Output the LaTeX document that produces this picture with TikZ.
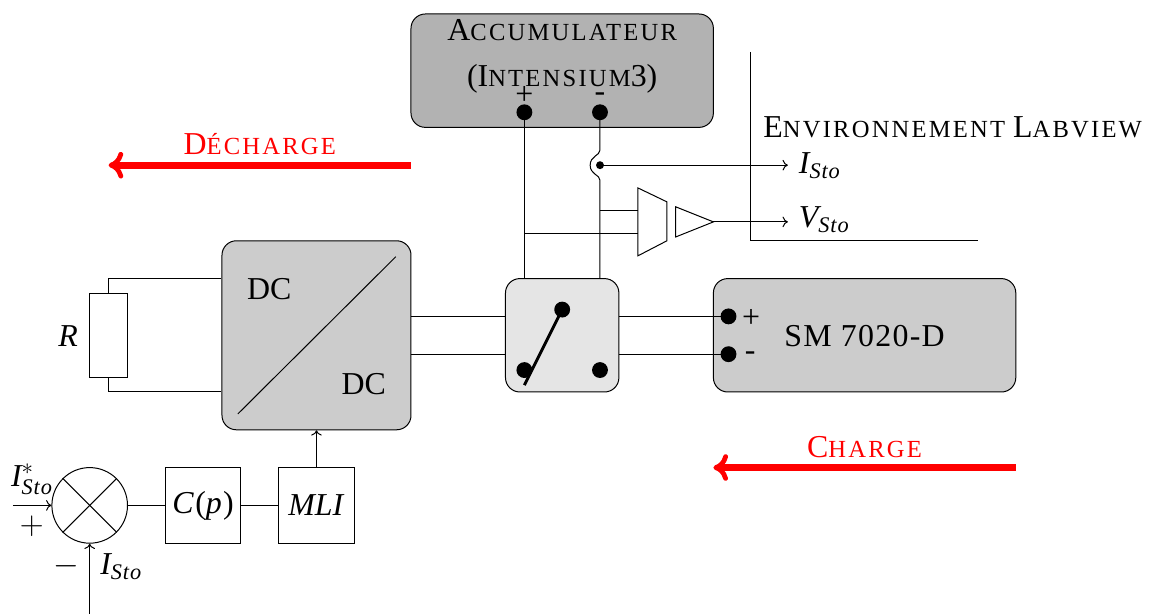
\documentclass[tikz,border=0pt]{standalone}
\usepackage{amsmath}
\usepackage{fontspec}
\setmainfont{Liberation Serif}
\newfontfamily\capsfont[LetterSpace=9]{Liberation Serif}
\newfontfamily\espfont[LetterSpace=4]{Liberation Serif}
\usetikzlibrary{arrows.meta,positioning,calc}
\newcommand{\smc}[1]{{\capsfont\fontsize{18.5}{22}\selectfont #1}}
\newcommand{\Sto}{\text{\espfont\itshape Sto}}
\newcommand{\Isto}{\textit{I}_{\Sto}}
\newcommand{\Vsto}{\textit{V}_{\Sto}}
\begin{document}
\begin{tikzpicture}[line width=0.75pt,
    every node/.style={font=\fontsize{24}{34.5}\selectfont},
    bloc/.style={draw,fill=#1,rounded corners=0.38cm,inner sep=0pt},
    carre/.style={draw,inner sep=0pt,minimum width=2cm,minimum height=2cm},
    gros/.style={circle,fill=black,inner sep=0pt,minimum size=0.42cm},
    petit/.style={circle,fill=black,inner sep=0pt,minimum size=0.21cm},
    ar/.style={-{To[length=4pt,width=8pt]}},
    fleche/.style={-{To[length=11pt,width=20pt,round,line width=3.6pt]},red,line width=5.2pt}
  ]
    \useasboundingbox (-10.873,-5.87) rectangle (19.524,10.37);
    % blocs
    \node[bloc=black!30,minimum width=8cm,minimum height=3cm] (acc) at (4,8.5) {};
    \node[align=center,inner sep=0pt] (acct) at (4,8.88)
      {A\smc{CCUMULATEUR}\\(I\smc{NTENSIUM}3)};
    \node[bloc=black!20,minimum width=5cm,minimum height=5cm] (dc) at (-2.5,1.5) {};
    \node[bloc=black!10,minimum width=3cm,minimum height=3cm] (sw) at (4,1.5) {};
    \node[bloc=black!20,minimum width=8cm,minimum height=3cm] (sm) at (12,1.5) {};
    \node (smt) at (12,1.47) {\espfont SM 7020-D};
    \node (dc1) at (-3.75,2.72) {DC};
    \node (dc2) at (-1.25,0.2) {DC};
    \coordinate (d1) at (-4.58,-0.58);
    \coordinate (d2) at (-0.4,3.58);
    \draw (d1) -- (d2);
    % bornes
    \node[gros] (bp) at (3,7.4) {};
    \node[gros] (bm) at (5,7.4) {};
    \node (lp) at (3,7.85) {+};
    \node (lm) at (5,7.8) {-};
    \node[gros] (sa) at (4,2.18) {};
    \node[gros] (sb) at (3,0.58) {};
    \node[gros] (sc) at (5,0.58) {};
    \coordinate (sbas) at (3,0.18);
    \draw[line width=2.2pt] (sa.center) -- (sbas);
    \node[gros] (mp) at (8.4,2) {};
    \node[gros] (mm) at (8.4,1) {};
    \node (lmp) at (9,1.95) {+};
    \node (lmm) at (8.97,0.95) {-};
    \foreach \y in {2,1}{
      \draw (dc.east |- 0,\y) -- (sw.west |- 0,\y);
      \draw (sw.east |- 0,\y) -- (8.4,\y);
    }
    % charge
    \node[draw,minimum width=1cm,minimum height=2.22cm,inner sep=0pt] (res) at (-8,1.5) {};
    \node (rl) at (-9.07,1.47) {\textit{R}};
    \draw (dc.west |- 0,3) -| (res.north);
    \draw (dc.west |- 0,0) -| (res.south);
    % mesures
    \coordinate (h1) at (5,6.4);
    \coordinate (h2) at (5,5.6);
    \node[petit] (pi) at (5,6) {};
    \draw (bp.center) -- (3,3);
    \draw (bm.center) -- (h1) .. controls (5,6.25) and (4.74,6.25) .. (4.74,6)
      .. controls (4.74,5.75) and (5,5.75) .. (h2) -- (5,3);
    \coordinate (s1) at (6,5.4);
    \coordinate (s2) at (6,3.6);
    \coordinate (s3) at (6.77,4.0);
    \coordinate (s4) at (6.77,5.03);
    \draw (s1) -- (s4) -- (s3) -- (s2) -- cycle;
    \draw (5,4.8) -- (6,4.8);
    \draw (3,4.2) -- (6,4.2);
    \coordinate (a1) at (7,4.9);
    \coordinate (a2) at (7,4.1);
    \coordinate (a3) at (8,4.5);
    \draw (a1) -- (a3) -- (a2) -- cycle;
    \node[anchor=base west,inner sep=0pt] (ii) at (10.25,5.79) {$\Isto$};
    \node[anchor=base west,inner sep=0pt] (vv) at (10.25,4.34) {$\Vsto$};
    \draw[ar] (pi.center) -- (9.97,6);
    \draw[ar] (a3) -- (9.97,4.5);
    \draw (8.99,9) -- (8.99,4) -- (15,4);
    \node[anchor=west,inner sep=0pt] (env) at (9.31,7.01)
      {E\smc{NVIRONNEMENT} L\smc{ABVIEW}};
    % sens
    \coordinate (f1) at (0,6);
    \coordinate (f2) at (-8,6);
    \coordinate (f3) at (16,-2);
    \coordinate (f4) at (8,-2);
    \draw[fleche] (f1) -- (f2);
    \draw[fleche] (f3) -- (f4);
    \node[text=red] (dech) at (-4,6.56) {D\smc{ÉCHARGE}};
    \node[text=red] (cha) at (12,-1.45) {C\smc{HARGE}};
    % regulation
    \node[draw,circle,minimum size=2cm,inner sep=0pt] (som) at (-8.5,-3) {};
    \node[carre] (cp) at (-5.5,-3) {{\espfont\textit{C}(\textit{p})}};
    \node[carre] (mli) at (-2.5,-3) {\textit{MLI}};
    \draw (som.45) -- (som.225);
    \draw (som.135) -- (som.315);
    \draw (som) -- (cp);
    \draw (cp) -- (mli);
    \draw[ar] (mli) -- (dc.south -| mli);
    \coordinate (e1) at (-10.53,-3);
    \coordinate (e2) at (-8.5,-5.87);
    \draw[ar] (e1) -- (som);
    \draw[ar] (e2) -- (som);
    \node (cons) at (-10.03,-2.3) {$\textit{I}^{*}_{\Sto}$};
    \node (lplus) at (-10.03,-3.55) {$+$};
    \node (lmoins) at (-9.12,-4.62) {$-$};
    \node (mes) at (-7.67,-4.62) {$\Isto$};
\end{tikzpicture}
\end{document}
